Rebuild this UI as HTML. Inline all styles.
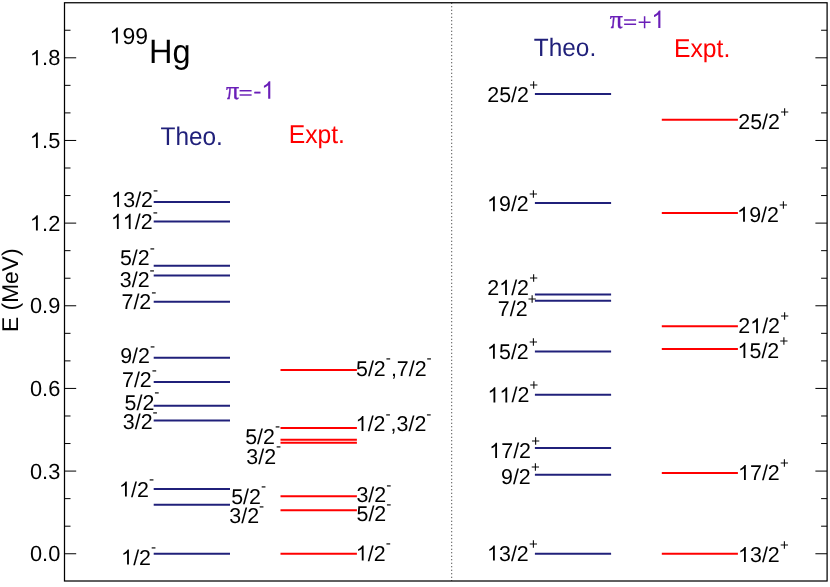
<!DOCTYPE html>
<html><head><meta charset="utf-8"><title>199Hg levels</title>
<style>html,body{margin:0;padding:0;background:#fff;}svg{display:block;will-change:transform;}text{font-family:"Liberation Sans",sans-serif;fill:#000;font-kerning:none;white-space:pre;text-rendering:geometricPrecision;}.s{font-family:"Liberation Serif",serif;}</style></head><body>
<svg width="830" height="587" viewBox="0 0 830 587">
<rect x="0" y="0" width="830" height="587" fill="#fff"/>
<line x1="451.7" y1="2.75" x2="451.7" y2="581.0" stroke="#222" stroke-width="1" stroke-dasharray="1 2.5"/>
<line x1="64.5" y1="553.75" x2="76.20" y2="553.75" stroke="#000" stroke-width="1"/>
<line x1="827.1" y1="553.75" x2="815.40" y2="553.75" stroke="#000" stroke-width="1"/>
<text x="30.00" y="561.20" font-size="21.8">0.0</text>
<line x1="64.5" y1="526.20" x2="70.50" y2="526.20" stroke="#000" stroke-width="1"/>
<line x1="827.1" y1="526.20" x2="821.10" y2="526.20" stroke="#000" stroke-width="1"/>
<line x1="64.5" y1="498.64" x2="70.50" y2="498.64" stroke="#000" stroke-width="1"/>
<line x1="827.1" y1="498.64" x2="821.10" y2="498.64" stroke="#000" stroke-width="1"/>
<line x1="64.5" y1="471.09" x2="76.20" y2="471.09" stroke="#000" stroke-width="1"/>
<line x1="827.1" y1="471.09" x2="815.40" y2="471.09" stroke="#000" stroke-width="1"/>
<text x="30.00" y="478.54" font-size="21.8">0.3</text>
<line x1="64.5" y1="443.54" x2="70.50" y2="443.54" stroke="#000" stroke-width="1"/>
<line x1="827.1" y1="443.54" x2="821.10" y2="443.54" stroke="#000" stroke-width="1"/>
<line x1="64.5" y1="415.99" x2="70.50" y2="415.99" stroke="#000" stroke-width="1"/>
<line x1="827.1" y1="415.99" x2="821.10" y2="415.99" stroke="#000" stroke-width="1"/>
<line x1="64.5" y1="388.43" x2="76.20" y2="388.43" stroke="#000" stroke-width="1"/>
<line x1="827.1" y1="388.43" x2="815.40" y2="388.43" stroke="#000" stroke-width="1"/>
<text x="30.00" y="395.88" font-size="21.8">0.6</text>
<line x1="64.5" y1="360.88" x2="70.50" y2="360.88" stroke="#000" stroke-width="1"/>
<line x1="827.1" y1="360.88" x2="821.10" y2="360.88" stroke="#000" stroke-width="1"/>
<line x1="64.5" y1="333.33" x2="70.50" y2="333.33" stroke="#000" stroke-width="1"/>
<line x1="827.1" y1="333.33" x2="821.10" y2="333.33" stroke="#000" stroke-width="1"/>
<line x1="64.5" y1="305.77" x2="76.20" y2="305.77" stroke="#000" stroke-width="1"/>
<line x1="827.1" y1="305.77" x2="815.40" y2="305.77" stroke="#000" stroke-width="1"/>
<text x="30.00" y="313.22" font-size="21.8">0.9</text>
<line x1="64.5" y1="278.22" x2="70.50" y2="278.22" stroke="#000" stroke-width="1"/>
<line x1="827.1" y1="278.22" x2="821.10" y2="278.22" stroke="#000" stroke-width="1"/>
<line x1="64.5" y1="250.67" x2="70.50" y2="250.67" stroke="#000" stroke-width="1"/>
<line x1="827.1" y1="250.67" x2="821.10" y2="250.67" stroke="#000" stroke-width="1"/>
<line x1="64.5" y1="223.11" x2="76.20" y2="223.11" stroke="#000" stroke-width="1"/>
<line x1="827.1" y1="223.11" x2="815.40" y2="223.11" stroke="#000" stroke-width="1"/>
<path d="M735 0H559V1127Q495 1066 392 1005T207 914V1084Q354 1154 463 1252T619 1440H735Z" transform="translate(30.00,230.56) scale(0.01064,-0.01064)" fill="#000"/>
<text x="42.12" y="230.56" font-size="21.8">.2</text>
<line x1="64.5" y1="195.56" x2="70.50" y2="195.56" stroke="#000" stroke-width="1"/>
<line x1="827.1" y1="195.56" x2="821.10" y2="195.56" stroke="#000" stroke-width="1"/>
<line x1="64.5" y1="168.01" x2="70.50" y2="168.01" stroke="#000" stroke-width="1"/>
<line x1="827.1" y1="168.01" x2="821.10" y2="168.01" stroke="#000" stroke-width="1"/>
<line x1="64.5" y1="140.46" x2="76.20" y2="140.46" stroke="#000" stroke-width="1"/>
<line x1="827.1" y1="140.46" x2="815.40" y2="140.46" stroke="#000" stroke-width="1"/>
<path d="M735 0H559V1127Q495 1066 392 1005T207 914V1084Q354 1154 463 1252T619 1440H735Z" transform="translate(30.00,147.91) scale(0.01064,-0.01064)" fill="#000"/>
<text x="42.12" y="147.91" font-size="21.8">.5</text>
<line x1="64.5" y1="112.90" x2="70.50" y2="112.90" stroke="#000" stroke-width="1"/>
<line x1="827.1" y1="112.90" x2="821.10" y2="112.90" stroke="#000" stroke-width="1"/>
<line x1="64.5" y1="85.35" x2="70.50" y2="85.35" stroke="#000" stroke-width="1"/>
<line x1="827.1" y1="85.35" x2="821.10" y2="85.35" stroke="#000" stroke-width="1"/>
<line x1="64.5" y1="57.80" x2="76.20" y2="57.80" stroke="#000" stroke-width="1"/>
<line x1="827.1" y1="57.80" x2="815.40" y2="57.80" stroke="#000" stroke-width="1"/>
<path d="M735 0H559V1127Q495 1066 392 1005T207 914V1084Q354 1154 463 1252T619 1440H735Z" transform="translate(30.00,65.25) scale(0.01064,-0.01064)" fill="#000"/>
<text x="42.12" y="65.25" font-size="21.8">.8</text>
<line x1="64.5" y1="30.24" x2="70.50" y2="30.24" stroke="#000" stroke-width="1"/>
<line x1="827.1" y1="30.24" x2="821.10" y2="30.24" stroke="#000" stroke-width="1"/>
<rect x="64.5" y="2.75" width="762.60" height="578.25" fill="none" stroke="#000" stroke-width="1.25"/>
<text transform="translate(17.8,332.0) rotate(-90)" font-size="22.8">E (MeV)</text>
<path d="M735 0H559V1127Q495 1066 392 1005T207 914V1084Q354 1154 463 1252T619 1440H735Z" transform="translate(109.60,43.60) scale(0.01123,-0.01123)" fill="#000"/>
<text x="122.39" y="43.60" font-size="23.0">99</text>
<text transform="translate(149,63.2) scale(1,1.035)" font-size="32.5">Hg</text>
<text transform="translate(160.5,144.9) scale(1,1.05)" font-size="24.4" style="fill:#20207a">Theo.</text>
<text transform="translate(288.7,142.8) scale(1,1.04)" font-size="24.7" style="fill:#ff0000">Expt.</text>
<text transform="translate(533.8,55.8) scale(1,1.03)" font-size="24.4" style="fill:#20207a">Theo.</text>
<text transform="translate(674.0,57.0) scale(1,1.04)" font-size="24.7" style="fill:#ff0000">Expt.</text>
<text x="225.95" y="98.8" font-size="26" class="s" style="fill:#6a1fb8;stroke:#6a1fb8;stroke-width:0.35">&#960;</text>
<line x1="239.60" y1="95.00" x2="251.60" y2="95.00" stroke="#6a1fb8" stroke-width="1.45"/>
<line x1="239.60" y1="90.75" x2="251.60" y2="90.75" stroke="#6a1fb8" stroke-width="1.45"/>
<line x1="254.20" y1="92.60" x2="260.50" y2="92.60" stroke="#6a1fb8" stroke-width="1.9"/>
<path d="M735 0H559V1127Q495 1066 392 1005T207 914V1084Q354 1154 463 1252T619 1440H735Z" transform="translate(261.40,98.80) scale(0.01211,-0.01211)" fill="#6a1fb8"/>
<text x="609.65" y="28.05" font-size="26" class="s" style="fill:#6a1fb8;stroke:#6a1fb8;stroke-width:0.35">&#960;</text>
<line x1="624.10" y1="24.25" x2="636.10" y2="24.25" stroke="#6a1fb8" stroke-width="1.45"/>
<line x1="624.10" y1="20.00" x2="636.10" y2="20.00" stroke="#6a1fb8" stroke-width="1.45"/>
<path d="M638.65 22.20H650.55M644.60 16.20V28.20" stroke="#6a1fb8" stroke-width="1.5" fill="none"/>
<path d="M735 0H559V1127Q495 1066 392 1005T207 914V1084Q354 1154 463 1252T619 1440H735Z" transform="translate(651.50,28.05) scale(0.01211,-0.01211)" fill="#6a1fb8"/>
<line x1="153.7" y1="202.0" x2="230" y2="202.0" stroke="#20207a" stroke-width="2"/>
<line x1="153.7" y1="221.6" x2="230" y2="221.6" stroke="#20207a" stroke-width="2"/>
<line x1="153.7" y1="265.85" x2="230" y2="265.85" stroke="#20207a" stroke-width="2"/>
<line x1="153.7" y1="275.4" x2="230" y2="275.4" stroke="#20207a" stroke-width="2"/>
<line x1="153.7" y1="301.75" x2="230" y2="301.75" stroke="#20207a" stroke-width="2"/>
<line x1="153.7" y1="357.8" x2="230" y2="357.8" stroke="#20207a" stroke-width="2"/>
<line x1="153.7" y1="382.0" x2="230" y2="382.0" stroke="#20207a" stroke-width="2"/>
<line x1="153.7" y1="405.8" x2="230" y2="405.8" stroke="#20207a" stroke-width="2"/>
<line x1="153.7" y1="420.6" x2="230" y2="420.6" stroke="#20207a" stroke-width="2"/>
<line x1="153.7" y1="489.1" x2="230" y2="489.1" stroke="#20207a" stroke-width="2"/>
<line x1="153.7" y1="504.7" x2="230" y2="504.7" stroke="#20207a" stroke-width="2"/>
<line x1="153.7" y1="553.7" x2="230" y2="553.7" stroke="#20207a" stroke-width="2"/>
<line x1="280.5" y1="369.9" x2="356.9" y2="369.9" stroke="#ff0000" stroke-width="2"/>
<line x1="280.5" y1="428.1" x2="356.9" y2="428.1" stroke="#ff0000" stroke-width="2"/>
<line x1="280.5" y1="439.8" x2="356.9" y2="439.8" stroke="#ff0000" stroke-width="2"/>
<line x1="280.5" y1="442.7" x2="356.9" y2="442.7" stroke="#ff0000" stroke-width="2"/>
<line x1="280.5" y1="496.2" x2="356.9" y2="496.2" stroke="#ff0000" stroke-width="2"/>
<line x1="280.5" y1="510.2" x2="356.9" y2="510.2" stroke="#ff0000" stroke-width="2"/>
<line x1="280.5" y1="553.7" x2="356.9" y2="553.7" stroke="#ff0000" stroke-width="2"/>
<line x1="534.9" y1="94.1" x2="611.1" y2="94.1" stroke="#20207a" stroke-width="2"/>
<line x1="534.9" y1="202.9" x2="611.1" y2="202.9" stroke="#20207a" stroke-width="2"/>
<line x1="534.9" y1="294.4" x2="611.1" y2="294.4" stroke="#20207a" stroke-width="2"/>
<line x1="534.9" y1="300.8" x2="611.1" y2="300.8" stroke="#20207a" stroke-width="2"/>
<line x1="534.9" y1="351.4" x2="611.1" y2="351.4" stroke="#20207a" stroke-width="2"/>
<line x1="534.9" y1="394.8" x2="611.1" y2="394.8" stroke="#20207a" stroke-width="2"/>
<line x1="534.9" y1="447.9" x2="611.1" y2="447.9" stroke="#20207a" stroke-width="2"/>
<line x1="534.9" y1="474.8" x2="611.1" y2="474.8" stroke="#20207a" stroke-width="2"/>
<line x1="534.9" y1="553.7" x2="611.1" y2="553.7" stroke="#20207a" stroke-width="2"/>
<line x1="661.8" y1="119.8" x2="737.9" y2="119.8" stroke="#ff0000" stroke-width="2"/>
<line x1="661.8" y1="212.9" x2="737.9" y2="212.9" stroke="#ff0000" stroke-width="2"/>
<line x1="661.8" y1="326.2" x2="737.9" y2="326.2" stroke="#ff0000" stroke-width="2"/>
<line x1="661.8" y1="349.1" x2="737.9" y2="349.1" stroke="#ff0000" stroke-width="2"/>
<line x1="661.8" y1="473.1" x2="737.9" y2="473.1" stroke="#ff0000" stroke-width="2"/>
<line x1="661.8" y1="553.7" x2="737.9" y2="553.7" stroke="#ff0000" stroke-width="2"/>
<path d="M735 0H559V1127Q495 1066 392 1005T207 914V1084Q354 1154 463 1252T619 1440H735Z" transform="translate(111.34,206.90) scale(0.01045,-0.01045)" fill="#000"/>
<text x="123.24" y="206.90" font-size="21.4">3/2</text>
<text x="152.99" y="194.50" font-size="15.4">-</text>
<path d="M735 0H559V1127Q495 1066 392 1005T207 914V1084Q354 1154 463 1252T619 1440H735Z" transform="translate(111.04,228.90) scale(0.01045,-0.01045)" fill="#000"/>
<path d="M735 0H559V1127Q495 1066 392 1005T207 914V1084Q354 1154 463 1252T619 1440H735Z" transform="translate(122.94,228.90) scale(0.01045,-0.01045)" fill="#000"/>
<text x="134.84" y="228.90" font-size="21.4">/2</text>
<text x="152.69" y="216.50" font-size="15.4">-</text>
<text x="119.92" y="265.30" font-size="21.4">5/2</text>
<text x="149.66" y="252.90" font-size="15.4">-</text>
<text x="119.87" y="287.20" font-size="21.4">3/2</text>
<text x="149.62" y="274.80" font-size="15.4">-</text>
<text x="121.51" y="309.00" font-size="21.4">7/2</text>
<text x="151.26" y="296.60" font-size="15.4">-</text>
<text x="120.20" y="362.90" font-size="21.4">9/2</text>
<text x="149.95" y="350.50" font-size="15.4">-</text>
<text x="122.01" y="387.00" font-size="21.4">7/2</text>
<text x="151.76" y="374.60" font-size="15.4">-</text>
<text x="124.62" y="409.50" font-size="21.4">5/2</text>
<text x="154.36" y="397.10" font-size="15.4">-</text>
<text x="122.87" y="429.20" font-size="21.4">3/2</text>
<text x="152.62" y="416.80" font-size="15.4">-</text>
<path d="M735 0H559V1127Q495 1066 392 1005T207 914V1084Q354 1154 463 1252T619 1440H735Z" transform="translate(119.14,496.50) scale(0.01045,-0.01045)" fill="#000"/>
<text x="131.04" y="496.50" font-size="21.4">/2</text>
<text x="148.89" y="484.10" font-size="15.4">-</text>
<path d="M735 0H559V1127Q495 1066 392 1005T207 914V1084Q354 1154 463 1252T619 1440H735Z" transform="translate(121.24,564.60) scale(0.01045,-0.01045)" fill="#000"/>
<text x="133.14" y="564.60" font-size="21.4">/2</text>
<text x="150.99" y="552.20" font-size="15.4">-</text>
<text x="231.22" y="503.60" font-size="21.4">5/2</text>
<text x="260.96" y="491.20" font-size="15.4">-</text>
<text x="229.37" y="523.10" font-size="21.4">3/2</text>
<text x="259.12" y="510.70" font-size="15.4">-</text>
<text x="356.02" y="375.60" font-size="21.4">5/2</text>
<text x="385.76" y="363.20" font-size="15.4">-</text>
<text x="390.89" y="375.60" font-size="21.4">,</text>
<text x="396.84" y="375.60" font-size="21.4">7/2</text>
<text x="426.59" y="363.20" font-size="15.4">-</text>
<path d="M735 0H559V1127Q495 1066 392 1005T207 914V1084Q354 1154 463 1252T619 1440H735Z" transform="translate(355.74,431.10) scale(0.01045,-0.01045)" fill="#000"/>
<text x="367.64" y="431.10" font-size="21.4">/2</text>
<text x="385.49" y="418.70" font-size="15.4">-</text>
<text x="390.62" y="431.10" font-size="21.4">,</text>
<text x="396.56" y="431.10" font-size="21.4">3/2</text>
<text x="426.31" y="418.70" font-size="15.4">-</text>
<text x="245.22" y="443.60" font-size="21.4">5/2</text>
<text x="274.96" y="431.20" font-size="15.4">-</text>
<text x="246.37" y="463.50" font-size="21.4">3/2</text>
<text x="276.12" y="451.10" font-size="15.4">-</text>
<text x="356.47" y="501.90" font-size="21.4">3/2</text>
<text x="386.22" y="489.50" font-size="15.4">-</text>
<text x="356.52" y="521.10" font-size="21.4">5/2</text>
<text x="386.26" y="508.70" font-size="15.4">-</text>
<path d="M735 0H559V1127Q495 1066 392 1005T207 914V1084Q354 1154 463 1252T619 1440H735Z" transform="translate(355.94,560.60) scale(0.01045,-0.01045)" fill="#000"/>
<text x="367.84" y="560.60" font-size="21.4">/2</text>
<text x="385.69" y="548.20" font-size="15.4">-</text>
<text x="487.34" y="101.70" font-size="21.4">25/2</text>
<text x="529.14" y="89.70" font-size="15.0">+</text>
<path d="M735 0H559V1127Q495 1066 392 1005T207 914V1084Q354 1154 463 1252T619 1440H735Z" transform="translate(487.14,211.20) scale(0.01045,-0.01045)" fill="#000"/>
<text x="499.04" y="211.20" font-size="21.4">9/2</text>
<text x="528.94" y="199.20" font-size="15.0">+</text>
<text x="487.34" y="294.90" font-size="21.4">2</text>
<path d="M735 0H559V1127Q495 1066 392 1005T207 914V1084Q354 1154 463 1252T619 1440H735Z" transform="translate(499.25,294.90) scale(0.01045,-0.01045)" fill="#000"/>
<text x="511.15" y="294.90" font-size="21.4">/2</text>
<text x="529.14" y="282.90" font-size="15.0">+</text>
<text x="497.81" y="315.60" font-size="21.4">7/2</text>
<text x="527.71" y="303.60" font-size="15.0">+</text>
<path d="M735 0H559V1127Q495 1066 392 1005T207 914V1084Q354 1154 463 1252T619 1440H735Z" transform="translate(487.14,358.70) scale(0.01045,-0.01045)" fill="#000"/>
<text x="499.04" y="358.70" font-size="21.4">5/2</text>
<text x="528.94" y="346.70" font-size="15.0">+</text>
<path d="M735 0H559V1127Q495 1066 392 1005T207 914V1084Q354 1154 463 1252T619 1440H735Z" transform="translate(487.64,402.40) scale(0.01045,-0.01045)" fill="#000"/>
<path d="M735 0H559V1127Q495 1066 392 1005T207 914V1084Q354 1154 463 1252T619 1440H735Z" transform="translate(499.54,402.40) scale(0.01045,-0.01045)" fill="#000"/>
<text x="511.44" y="402.40" font-size="21.4">/2</text>
<text x="529.44" y="390.40" font-size="15.0">+</text>
<path d="M735 0H559V1127Q495 1066 392 1005T207 914V1084Q354 1154 463 1252T619 1440H735Z" transform="translate(489.34,457.90) scale(0.01045,-0.01045)" fill="#000"/>
<text x="501.24" y="457.90" font-size="21.4">7/2</text>
<text x="531.14" y="445.90" font-size="15.0">+</text>
<text x="501.00" y="484.40" font-size="21.4">9/2</text>
<text x="530.90" y="472.40" font-size="15.0">+</text>
<path d="M735 0H559V1127Q495 1066 392 1005T207 914V1084Q354 1154 463 1252T619 1440H735Z" transform="translate(487.14,560.50) scale(0.01045,-0.01045)" fill="#000"/>
<text x="499.04" y="560.50" font-size="21.4">3/2</text>
<text x="528.94" y="548.50" font-size="15.0">+</text>
<text x="738.34" y="128.50" font-size="21.4">25/2</text>
<text x="780.14" y="116.50" font-size="15.0">+</text>
<path d="M735 0H559V1127Q495 1066 392 1005T207 914V1084Q354 1154 463 1252T619 1440H735Z" transform="translate(737.24,221.70) scale(0.01045,-0.01045)" fill="#000"/>
<text x="749.14" y="221.70" font-size="21.4">9/2</text>
<text x="779.04" y="209.70" font-size="15.0">+</text>
<text x="738.34" y="333.20" font-size="21.4">2</text>
<path d="M735 0H559V1127Q495 1066 392 1005T207 914V1084Q354 1154 463 1252T619 1440H735Z" transform="translate(750.25,333.20) scale(0.01045,-0.01045)" fill="#000"/>
<text x="762.15" y="333.20" font-size="21.4">/2</text>
<text x="780.14" y="321.20" font-size="15.0">+</text>
<path d="M735 0H559V1127Q495 1066 392 1005T207 914V1084Q354 1154 463 1252T619 1440H735Z" transform="translate(737.64,357.90) scale(0.01045,-0.01045)" fill="#000"/>
<text x="749.54" y="357.90" font-size="21.4">5/2</text>
<text x="779.44" y="345.90" font-size="15.0">+</text>
<path d="M735 0H559V1127Q495 1066 392 1005T207 914V1084Q354 1154 463 1252T619 1440H735Z" transform="translate(738.14,480.00) scale(0.01045,-0.01045)" fill="#000"/>
<text x="750.04" y="480.00" font-size="21.4">7/2</text>
<text x="779.94" y="468.00" font-size="15.0">+</text>
<path d="M735 0H559V1127Q495 1066 392 1005T207 914V1084Q354 1154 463 1252T619 1440H735Z" transform="translate(738.14,562.00) scale(0.01045,-0.01045)" fill="#000"/>
<text x="750.04" y="562.00" font-size="21.4">3/2</text>
<text x="779.94" y="550.00" font-size="15.0">+</text>
</svg></body></html>
